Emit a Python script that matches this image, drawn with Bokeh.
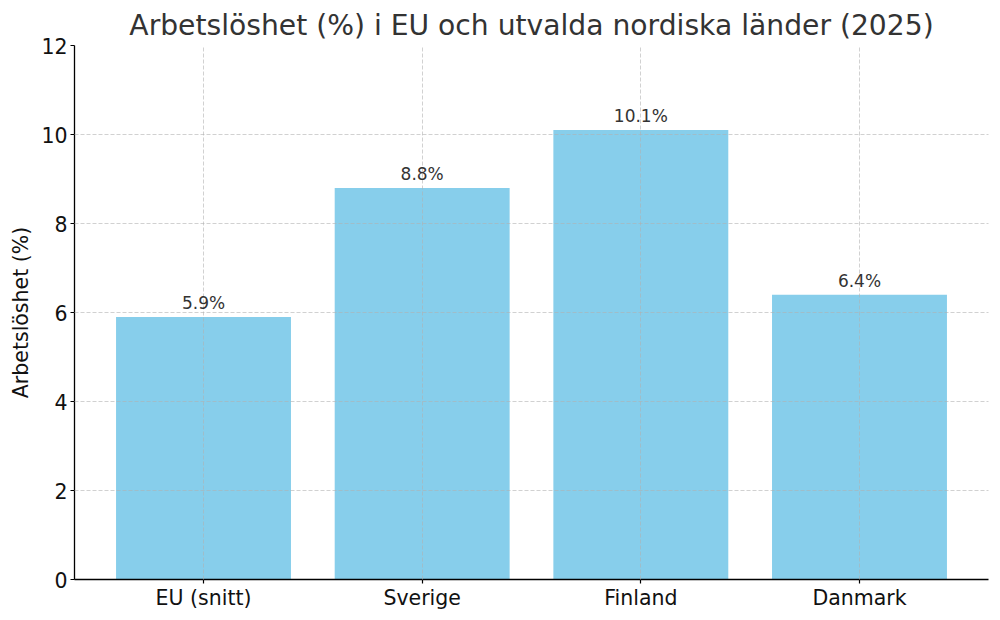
from bokeh.plotting import figure
from bokeh.models import Range1d, FixedTicker, ColumnDataSource, LabelSet
from bokeh.core.properties import value
from bokeh.embed import file_html
from bokeh.resources import INLINE

categories = ["EU (snitt)", "Sverige", "Finland", "Danmark"]
unemployment = [5.9, 8.8, 10.1, 6.4]
value_labels = ["5.9%", "8.8%", "10.1%", "6.4%"]
y_ticks = [0, 2, 4, 6, 8, 10, 12]

FONT = "DejaVu Sans"
xs = list(range(len(categories)))

src = ColumnDataSource(dict(x=xs, top=unemployment, label=value_labels))

p = figure(width=992, height=612,
           x_range=Range1d(-0.59, len(categories) - 1 + 0.59),
           y_range=Range1d(0, 12),
           output_backend="svg", toolbar_location=None,
           min_border_left=74, min_border_right=4,
           min_border_top=45, min_border_bottom=28)

p.title.text = "Arbetslöshet (%) i EU och utvalda nordiska länder (2025)"
p.title.text_font = FONT
p.title.text_font_size = "28.2px"
p.title.text_font_style = "normal"
p.title.text_color = "#333333"
p.title.align = "center"
p.title.standoff = 7
p.title.offset = 0

p.outline_line_color = None
p.background_fill_color = "white"
p.border_fill_color = "white"

p.vbar(x="x", top="top", width=0.8, source=src, fill_color="#87CEEB",
       line_color=None)

for ax in (p.xaxis[0], p.yaxis[0]):
    ax.axis_line_color = "black"
    ax.axis_line_width = 1.3
    ax.major_tick_line_color = "black"
    ax.major_tick_line_width = 1.2
    ax.major_tick_out = 4
    ax.major_tick_in = 0
    ax.minor_tick_line_color = None
    ax.major_label_text_font = FONT
    ax.major_label_text_font_size = "20.5px"
    ax.major_label_text_color = "#111111"
    ax.major_label_standoff = 3

p.xaxis.major_label_standoff = 2
p.xaxis.ticker = FixedTicker(ticks=xs)
p.xaxis.major_label_overrides = {i: c for i, c in zip(xs, categories)}
p.yaxis.ticker = FixedTicker(ticks=y_ticks)

p.yaxis.axis_label = "Arbetslöshet (%)"
p.yaxis.axis_label_text_font = FONT
p.yaxis.axis_label_text_font_size = "20.5px"
p.yaxis.axis_label_text_font_style = "normal"
p.yaxis.axis_label_text_color = "#111111"
p.yaxis.axis_label_standoff = 5

for g in (p.xgrid[0], p.ygrid[0]):
    g.grid_line_color = "#b0b0b0"
    g.grid_line_alpha = 0.65
    g.grid_line_dash = "4 2"
    g.grid_line_width = 0.9
    g.level = "annotation"
p.xgrid.ticker = FixedTicker(ticks=xs)
p.ygrid.ticker = FixedTicker(ticks=y_ticks)

labels = LabelSet(x="x", y="top", text="label", source=src,
                  text_align="center", text_baseline="alphabetic",
                  y_offset=8, text_font=value(FONT), text_font_size="17px",
                  text_color="#333333")
p.add_layout(labels)

open("out.html", "w").write(file_html(p, INLINE))
